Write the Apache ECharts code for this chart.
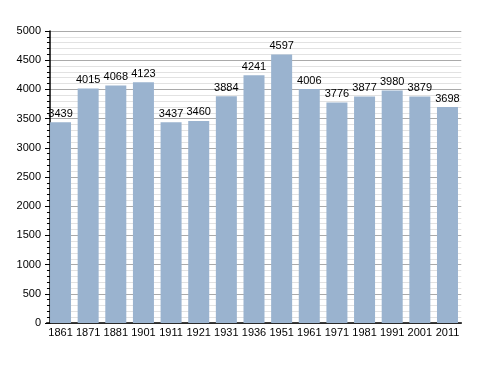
<!DOCTYPE html>
<html><head><meta charset="utf-8">
<script src="https://cdn.jsdelivr.net/npm/echarts@6/dist/echarts.min.js"></script>
<style>html,body{margin:0;padding:0;background:#fff}#c{width:488px;height:373px}</style>
</head><body><div id="c"></div>
<script>
const years = ['1861','1871','1881','1901','1911','1921','1931','1936','1951','1961','1971','1981','1991','2001','2011'];
const population = [3439,4015,4068,4123,3437,3460,3884,4241,4597,4006,3776,3877,3980,3879,3698];
const yTicks = [0,500,1000,1500,2000,2500,3000,3500,4000,4500,5000];

const chart = echarts.init(document.getElementById('c'), null, {renderer:'canvas'});
const font = 'Liberation Sans, Arial, sans-serif';
chart.setOption({
  animation:false,
  grid:{left:46.7, right:26.7, top:31, bottom:50, containLabel:false},
  xAxis:{type:'category', data:years, boundaryGap:true,
    axisLine:{show:true, lineStyle:{color:'#000', width:1.5}},
    axisTick:{show:false},
    axisLabel:{color:'#000', fontFamily:font, fontSize:11, margin:4, interval:0}},
  yAxis:{type:'value', min:yTicks[0], max:yTicks[yTicks.length-1], interval:500, offset:-3.3,
    axisLine:{show:true, lineStyle:{color:'#000', width:1.5}},
    axisTick:{show:true, inside:false, length:5, lineStyle:{color:'#000'}},
    minorTick:{show:true, splitNumber:5, length:3, lineStyle:{color:'#000'}},
    splitLine:{show:true, lineStyle:{color:'#aaa', width:1}},
    minorSplitLine:{show:true, lineStyle:{color:'#e2e2e2', width:1}},
    axisLabel:{color:'#000', fontFamily:font, fontSize:11, margin:9, formatter:function(v){return String(v);}}},
  series:[{type:'bar', data:population, barWidth:21,
    itemStyle:{color:'#9ab3cf'},
    label:{show:true, position:'top', color:'#000', fontFamily:font, fontSize:11, distance:3}}]
});
</script></body></html>
